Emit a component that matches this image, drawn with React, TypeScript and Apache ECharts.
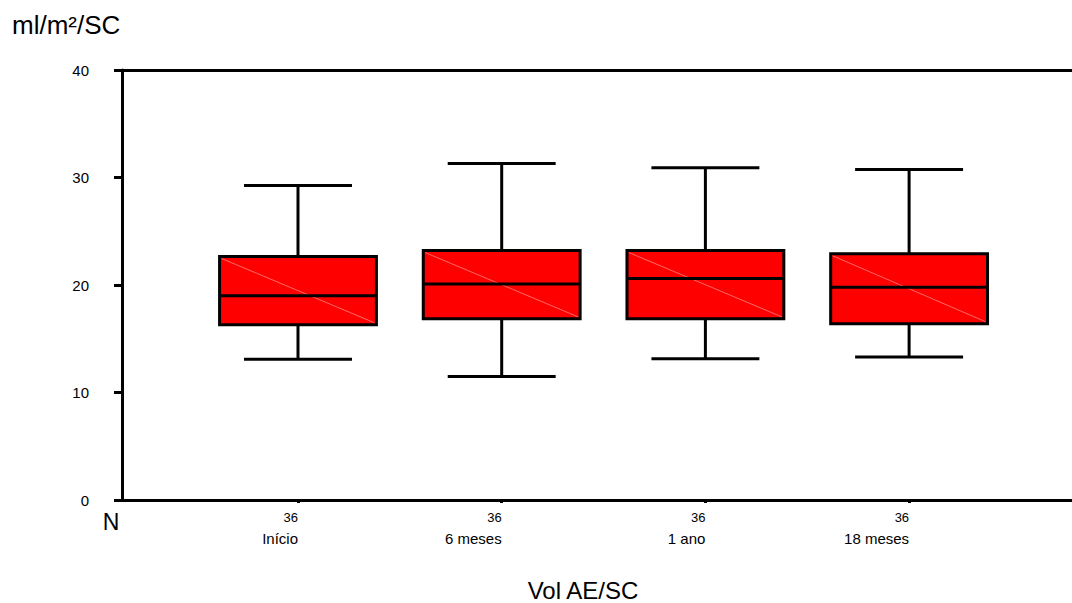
import React, { useEffect, useRef } from "react";
import * as echarts from "echarts";

const categories = ["Início", "6 meses", "1 ano", "18 meses"];
const counts = [36, 36, 36, 36];
const whiskerLow = [13.1, 11.5, 13.15, 13.3];
const q1 = [16.3, 16.85, 16.85, 16.4];
const median = [19.0, 20.1, 20.6, 19.8];
const q3 = [22.65, 23.2, 23.2, 22.9];
const whiskerHigh = [29.25, 31.3, 30.9, 30.75];
const yTicks = [0, 10, 20, 30, 40];

const FONT = "'Liberation Sans', Arial, Helvetica, sans-serif";

export default function App() {
  const ref = useRef<HTMLDivElement>(null);
  useEffect(() => {
    if (!ref.current) return;
    const chart = echarts.init(ref.current, null, { renderer: "svg" });
    const data = categories.map((_, i) => [
      i + 1,
      whiskerLow[i],
      q1[i],
      median[i],
      q3[i],
      whiskerHigh[i],
    ]);
    const xMin = 0.136;
    const xMax = 0.136 + 962 / 203.7;
    chart.setOption({
      animation: false,
      textStyle: { fontFamily: FONT },
      grid: { left: 122, top: 70, width: 962, bottom: 103, outerBoundsMode: "none" },
      xAxis: [
        {
          type: "value",
          min: xMin,
          max: xMax,
          position: "bottom",
          axisLine: { show: true, onZero: false, lineStyle: { color: "#000", width: 3 } },
          axisTick: {
            show: true,
            length: 3,
            customValues: [1, 2, 3, 4],
            lineStyle: { color: "#000", width: 3 },
          },
          splitLine: { show: false },
          axisLabel: {
            show: true,
            customValues: [1, 2, 3, 4],
            margin: 10,
            align: "right",
            verticalAlign: "top",
            formatter: (v: number) => {
              const i = Math.round(v) - 1;
              return `{n|${counts[i]}}\n{c|${categories[i]}}`;
            },
            rich: {
              n: { fontSize: 13, lineHeight: 14, color: "#000", fontFamily: FONT, align: "right" },
              c: { fontSize: 15, lineHeight: 28, color: "#000", fontFamily: FONT, align: "right" },
            },
          },
        },
        {
          type: "value",
          min: xMin,
          max: xMax,
          position: "top",
          axisLine: { show: true, onZero: false, lineStyle: { color: "#000", width: 3 } },
          axisTick: { show: false },
          axisLabel: { show: false },
          splitLine: { show: false },
        },
      ],
      yAxis: {
        type: "value",
        min: yTicks[0],
        max: yTicks[yTicks.length - 1],
        interval: 10,
        axisLine: { show: true, lineStyle: { color: "#000", width: 3 } },
        axisTick: { show: true, length: 8, lineStyle: { color: "#000", width: 3 } },
        splitLine: { show: false },
        axisLabel: { color: "#000", fontSize: 15, margin: 33, fontFamily: FONT },
      },
      graphic: [
        {
          type: "text",
          left: 12,
          top: 12,
          style: { text: "ml/m²/SC", fontSize: 26, fill: "#000", fontFamily: FONT },
        },
        {
          type: "text",
          x: 111,
          y: 522,
          style: {
            text: "N",
            fontSize: 23,
            fill: "#000",
            fontFamily: FONT,
            align: "center",
            verticalAlign: "middle",
          },
        },
        {
          type: "text",
          x: 583,
          y: 590,
          style: {
            text: "Vol AE/SC",
            fontSize: 24,
            fill: "#000",
            fontFamily: FONT,
            align: "center",
            verticalAlign: "middle",
          },
        },
      ],
      series: [
        {
          type: "custom",
          xAxisIndex: 0,
          clip: false,
          encode: { x: 0, y: [1, 2, 3, 4, 5] },
          data,
          renderItem: (params: any, api: any) => {
            const x = api.value(0);
            const pLow = api.coord([x, api.value(1)]);
            const pQ1 = api.coord([x, api.value(2)]);
            const pMed = api.coord([x, api.value(3)]);
            const pQ3 = api.coord([x, api.value(4)]);
            const pHigh = api.coord([x, api.value(5)]);
            const unit = api.size([1, 0])[0];
            const bw = unit * 0.77;
            const cw = unit * 0.53;
            const cx = pMed[0];
            const lineStyle = { stroke: "#000", lineWidth: 3 };
            return {
              type: "group",
              children: [
                {
                  type: "line",
                  shape: { x1: cx, y1: pHigh[1], x2: cx, y2: pQ3[1] },
                  style: lineStyle,
                },
                {
                  type: "line",
                  shape: { x1: cx, y1: pQ1[1], x2: cx, y2: pLow[1] },
                  style: lineStyle,
                },
                {
                  type: "line",
                  shape: { x1: cx - cw / 2, y1: pHigh[1], x2: cx + cw / 2, y2: pHigh[1] },
                  style: lineStyle,
                },
                {
                  type: "line",
                  shape: { x1: cx - cw / 2, y1: pLow[1], x2: cx + cw / 2, y2: pLow[1] },
                  style: lineStyle,
                },
                {
                  type: "rect",
                  shape: { x: cx - bw / 2, y: pQ3[1], width: bw, height: pQ1[1] - pQ3[1] },
                  style: { fill: "#ff0000", stroke: "#000", lineWidth: 3 },
                },
                {
                  type: "line",
                  shape: {
                    x1: cx - bw / 2 + 2,
                    y1: pQ3[1] + 2,
                    x2: cx + bw / 2 - 2,
                    y2: pQ1[1] - 2,
                  },
                  style: { stroke: "rgba(255,150,150,0.7)", lineWidth: 1 },
                },
                {
                  type: "line",
                  shape: { x1: cx - bw / 2, y1: pMed[1], x2: cx + bw / 2, y2: pMed[1] },
                  style: lineStyle,
                },
              ],
            };
          },
        },
      ],
    });
    return () => chart.dispose();
  }, []);
  return (
    <div
      ref={ref}
      style={{ position: "fixed", left: 0, top: 0, width: 1072, height: 603, background: "#fff" }}
    />
  );
}
